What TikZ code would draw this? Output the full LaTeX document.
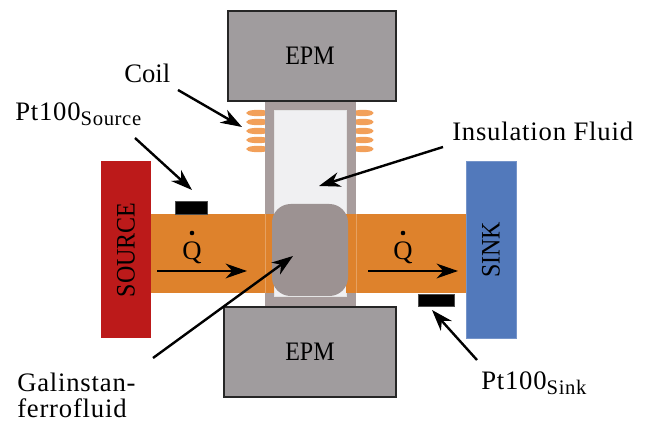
\documentclass[tikz,border=0pt]{standalone}
\usepackage{fontspec}
\setmainfont{Liberation Serif}
\newfontfamily\spacedfont[LetterSpace=3]{Liberation Serif}
\newfontfamily\capfont[FakeStretch=0.9]{Liberation Serif}
\usetikzlibrary{arrows.meta}
\definecolor{epmgray}{HTML}{A09C9E}
\definecolor{framegray}{HTML}{A89D9D}
\definecolor{blobgray}{HTML}{9C9292}
\definecolor{heat}{HTML}{DE822C}
\definecolor{coilor}{HTML}{F2A05A}
\definecolor{srcred}{HTML}{BC1A1A}
\definecolor{sinkblue}{HTML}{5279BB}
\definecolor{fluid}{HTML}{F0F0F2}
\newcommand{\subtxt}[1]{\raisebox{-3.75pt}{\fontsize{15.5}{15.5}\selectfont #1}}
\tikzset{
  box/.style={inner sep=0pt,outer sep=0pt,anchor=north west},
  lbl/.style={font=\fontsize{20}{24}\selectfont\spacedfont,inner sep=0pt,text=black,anchor=base west},
  caplbl/.style={font=\fontsize{20}{24}\capfont,inner sep=0pt,text=black},
  pointer/.style={line width=1.8pt,-{Stealth[length=16pt,width=11pt,inset=5pt]}},
  coilturn/.style={draw=coilor,line width=2.3pt},
}
\newcommand{\mkbox}[5]{\node[box,minimum width=#3*0.75pt,minimum height=#4*0.75pt,#5] (#1) at #2 {};}
\begin{document}
\begin{tikzpicture}[x=0.75pt,y=-0.75pt]
\useasboundingbox (0,0) rectangle (646,423);
% coils
\foreach \yy in {113,122,131,140,149}{
  \draw[coilturn] (258,\yy) ellipse (9.5 and 1.6);
  \draw[coilturn] (363,\yy) ellipse (8.5 and 1.6);
}
% frame
\mkbox{frame}{(265,100)}{91}{207}{fill=framegray,draw=none}
\mkbox{insul}{(274,110)}{72}{186}{fill=fluid,draw=white!80!gray,line width=0.5pt}
% heat paths
\mkbox{leftbar}{(151,214)}{123}{79}{fill=heat}
\mkbox{rightbar}{(346,214)}{120}{79}{fill=heat}
\draw[heat!75!white,line width=0.4pt] (265,214) -- (265,293);
\draw[heat!75!white,line width=0.4pt] (356,214) -- (356,293);
% blob
\node[box,minimum width=76*0.75pt,minimum height=92*0.75pt,fill=blobgray,rounded corners=14pt] (blob) at (272,204) {};
% source, sink
\mkbox{source}{(101,161)}{50}{177}{fill=srcred}
\mkbox{sink}{(466,161)}{50}{177}{fill=sinkblue,draw=sinkblue!80!white,line width=0.5pt}
\node[caplbl,rotate=90] (srclbl) at (126,250) {SOURCE};
\node[caplbl,rotate=90] (sinktxt) at (491,250) {SINK};
% EPM
\mkbox{epmtop}{(228,11)}{168}{90}{fill=epmgray,draw=black!85,line width=1.3pt}
\mkbox{epmbot}{(224,307)}{172}{90}{fill=epmgray,draw=black!85,line width=1.3pt}
\node[caplbl] (epmtoplbl) at (310,56) {EPM};
\node[caplbl] (epmbotlbl) at (310,352) {EPM};
% sensors
\mkbox{ptsrc}{(175,201)}{32}{13}{fill=black,draw=black!70,line width=0.5pt}
\mkbox{ptsnk}{(418,294)}{36}{12}{fill=black,draw=black!70,line width=0.5pt}
% labels
\node[lbl,font=\fontsize{20}{24}\selectfont\rmfamily] (coil) at (124,83) {Coil};
\node[lbl] (ptsrclbl) at (15,121) {Pt100\subtxt{Source}};
\node[lbl] (insullbl) at (452,141) {Insulation Fluid};
\node[lbl] (gallbl) at (17,392) {Galinstan-};
\node[lbl] (ferrolbl) at (17,418) {ferrofluid};
\node[lbl] (ptsnklbl) at (481,390) {Pt100\subtxt{Sink}};
\node[lbl,anchor=base] (q1) at (192,260) {Q};
\node[lbl,anchor=base] (q2) at (403,260) {Q};
\fill (192,233) circle (2.3);
\fill (403,233) circle (2.3);
% arrows
\coordinate (a1s) at (178,90); \coordinate (a1e) at (242,127);
\coordinate (a2s) at (135,138); \coordinate (a2e) at (192,190);
\coordinate (a3s) at (443,147); \coordinate (a3e) at (319,186);
\coordinate (a4s) at (153,358); \coordinate (a4e) at (293,256);
\coordinate (a5s) at (157,271); \coordinate (a5e) at (247,271);
\coordinate (a6s) at (368,271); \coordinate (a6e) at (458,271);
\coordinate (a7s) at (477,360); \coordinate (a7e) at (432,310);
\foreach \s/\e in {a1s/a1e,a2s/a2e,a3s/a3e,a4s/a4e,a5s/a5e,a6s/a6e,a7s/a7e}
  \draw[pointer] (\s) -- (\e);
\end{tikzpicture}
\end{document}
